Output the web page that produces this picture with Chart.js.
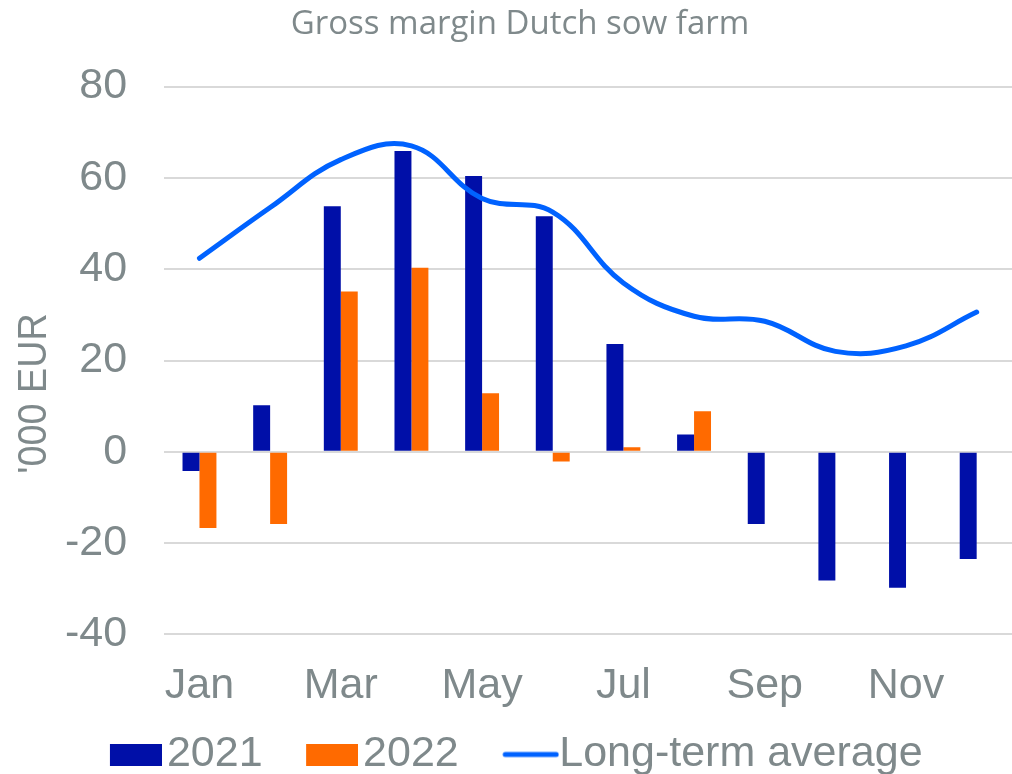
<!DOCTYPE html>
<html lang="en">
<head>
<meta charset="utf-8">
<title>Gross margin Dutch sow farm</title>
<script src="https://cdn.jsdelivr.net/npm/chart.js@4"></script>
<style>
  body { margin: 0; background: #fff; }
  #box { width: 1012px; height: 774px; position: relative; }
</style>
</head>
<body>
<div id="box"><canvas id="chart"></canvas></div>
<script>
// 月份與數值 (千歐元)
const MONTHS = ['Jan', 'Feb', 'Mar', 'Apr', 'May', 'Jun', 'Jul', 'Aug', 'Sep', 'Oct', 'Nov', 'Dec'];
const Y2021 = [-4.2, 10.2, 53.8, 65.9, 60.4, 51.6, 23.6, 3.8, -15.8, -28.2, -29.8, -23.5];
const Y2022 = [-16.7, -15.8, 35.1, 40.3, 12.8, -2.1, 1.0, 8.9, null, null, null, null];
const LONG_TERM = [42.4, 53.5, 64, 67, 55.5, 52.5, 37, 29.7, 28.6, 22, 23.2, 30.6];
const Y_TICKS = { min: -40, max: 80, step: 20 };

const GREY = '#7f898b';
const AXIS_FONT = { family: '"Liberation Sans", Arial, sans-serif', size: 43 };
const SLOT = 76;   // 圖例每項的圖示寬度 (含前方空白)

// 圖例圖示：色塊/線段靠右，貼近文字
function swatch(color, isLine) {
  const c = document.createElement('canvas');
  c.width = SLOT + (isLine ? 43 : 33);
  c.height = 22;
  const g = c.getContext('2d');
  if (isLine) {
    g.strokeStyle = color; g.lineWidth = 5; g.lineCap = 'round';
    g.beginPath(); g.moveTo(c.width - 54, 11); g.lineTo(c.width - 3, 11); g.stroke();
  } else {
    g.fillStyle = color; g.fillRect(c.width - 52, 0, 52, 22);
  }
  return c;
}

// y 軸標題自己畫：比置中略低，字形稍窄；圖例整體左移一點
const extras = {
  id: 'extras',
  afterLayout(chart) {
    chart.legend.left -= 24;
    chart.legend.right -= 24;
  },
  afterDraw(chart) {
    const { ctx, chartArea } = chart;
    ctx.save();
    ctx.translate(35, (chartArea.top + chartArea.bottom) / 2 + 33);
    ctx.rotate(-Math.PI / 2);
    ctx.scale(0.92, 1);
    ctx.font = '41px "Liberation Sans", Arial, sans-serif';
    ctx.fillStyle = GREY;
    ctx.textAlign = 'center';
    ctx.textBaseline = 'middle';
    ctx.fillText("'000 EUR", 0, 0);
    ctx.restore();
  },
};

new Chart(document.getElementById('chart'), {
  type: 'bar',
  data: {
    labels: MONTHS,
    datasets: [
      { label: '2021', data: Y2021, backgroundColor: '#000fa8',
        categoryPercentage: 0.48, barPercentage: 1.0 },
      { label: '2022', data: Y2022, backgroundColor: '#ff6a00',
        categoryPercentage: 0.48, barPercentage: 1.0 },
      { label: 'Long-term average', type: 'line', data: LONG_TERM, order: -1,
        borderColor: '#0062ff', backgroundColor: '#0062ff', borderWidth: 5,
        borderCapStyle: 'round', tension: 0.4, pointRadius: 0 },
    ],
  },
  options: {
    responsive: true,
    maintainAspectRatio: false,
    animation: false,
    layout: { padding: { left: 28, right: 0, top: 0, bottom: -12 } },
    plugins: {
      title: {
        display: true, text: 'Gross margin Dutch sow farm', color: GREY,
        font: { family: '"Open Sans", sans-serif', size: 33, weight: 'normal' },
        padding: { top: 5, bottom: 42 },
      },
      legend: {
        position: 'bottom',
        labels: {
          color: GREY, font: AXIS_FONT,
          usePointStyle: true, pointStyleWidth: SLOT, boxHeight: 22, padding: 3,
          sort: (a, b) => a.datasetIndex - b.datasetIndex,
          generateLabels(chart) {
            const items = Chart.defaults.plugins.legend.labels.generateLabels(chart);
            items.forEach(it => {
              const ds = chart.data.datasets[it.datasetIndex];
              it.pointStyle = swatch(ds.backgroundColor, ds.type === 'line');
            });
            return items;
          },
        },
      },
      tooltip: { enabled: false },
    },
    scales: {
      x: {
        grid: { display: false },
        border: { display: false },
        ticks: {
          color: GREY, font: AXIS_FONT, maxRotation: 0, autoSkip: false, padding: 18,
          callback: (v, i) => (i % 2 === 0 ? MONTHS[i] : ''),
        },
      },
      y: {
        min: Y_TICKS.min, max: Y_TICKS.max,
        grid: { color: '#d9d9d9', lineWidth: 2, drawTicks: false },
        border: { display: false },
        ticks: { stepSize: Y_TICKS.step, color: GREY, font: AXIS_FONT, padding: 37 },
      },
    },
  },
  plugins: [extras],
});
</script>
</body>
</html>
